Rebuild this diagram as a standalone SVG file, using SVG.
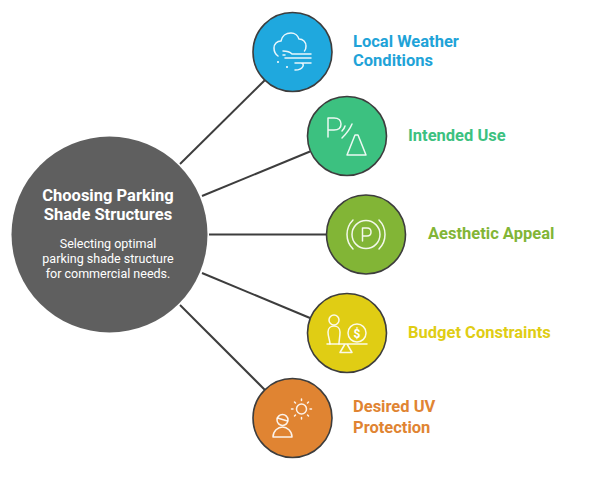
<svg xmlns="http://www.w3.org/2000/svg" width="600" height="483" viewBox="0 0 600 483">
<style>
text{font-family:Roboto,"Liberation Sans",sans-serif}
.lab{font-size:16.500px;font-weight:700}
.n{stroke:#3d3d3d;stroke-width:1.6}
.i{fill:none;stroke:#fff;stroke-width:1.500;stroke-linecap:round;stroke-linejoin:round;opacity:.9}
.c{stroke:#3d3d3d;stroke-width:2;fill:none}
.t{font-size:16.500px;font-weight:700;fill:#fff;text-anchor:middle}
.s{font-size:12.500px;fill:#fff;text-anchor:middle}
</style>
<rect width="600" height="483" fill="#fff"/>
<g id="connectors">
<path class="c" d="M180 164L265 80"/>
<path class="c" d="M202 196L310 151.500"/>
<path class="c" d="M209 234.500H327"/>
<path class="c" d="M202 273L310 318"/>
<path class="c" d="M180 305L265 390"/>
</g>
<g id="center">
<circle cx="109.500" cy="234.500" r="98" fill="#5f5f5f"/>
<text class="t" x="108" y="201">Choosing Parking</text>
<text class="t" x="108" y="220">Shade Structures</text>
<text class="s" x="108" y="248">Selecting optimal</text>
<text class="s" x="108" y="263">parking shade structure</text>
<text class="s" x="108" y="278">for commercial needs.</text>
</g>
<g id="node-weather">
<circle class="n" cx="292.500" cy="52" r="39.500" fill="#1fa8de"/>
<path class="i" d="M278 56C275 54 274 51 274 48C274 44 277 41 281 41C282 36 286 33 291 33C295 33 298 36 299 39C303 39 306 42 306 46C306 48 305.500 50 304.500 51"/>
<path class="i" d="M283 51C286 51 290 52 292 54H311M285 58H311M295 63H311M301 63C305 63 304 70 295 70M283 55H285"/>
<circle cx="278" cy="62" r="1" fill="#fff"/><circle cx="287" cy="67" r="1" fill="#fff"/>
<text class="lab" x="353" y="47" fill="#1fa3d8">Local Weather</text>
<text class="lab" x="353" y="66" fill="#1fa3d8">Conditions</text>
</g>
<g id="node-use">
<circle class="n" cx="347" cy="136" r="39.500" fill="#3cc180"/>
<path class="i" d="M328 137V118H334C339 118 341 121 341 124C341 128 339 130 334 130H328"/>
<path class="i" d="M345 126C344.500 128 343.500 129.500 342 131M352 124C350 129 347 133 342 138"/>
<path class="i" d="M347 155L355 135H358L366 155Z"/>
<text class="lab" x="408" y="141" fill="#3cc180">Intended Use</text>
</g>
<g id="node-aesthetic">
<circle class="n" cx="366" cy="234.500" r="39.500" fill="#82b536"/>
<circle class="i" cx="366" cy="234.500" r="14"/>
<path class="i" d="M353 220C345 228 345 241 353 249M379 220C387 228 387 241 379 249"/>
<path class="i" d="M362.500 241V228H367C370 228 371 230 371 232C371 234 370 236 367 236H362.500"/>
<text class="lab" x="428" y="239" fill="#82b536">Aesthetic Appeal</text>
</g>
<g id="node-budget">
<circle class="n" cx="347" cy="333" r="39.500" fill="#e0cd14"/>
<circle class="i" cx="334" cy="320" r="5"/>
<path class="i" d="M330 344C330 340 328 337 328 332C328 328 331 326 334 326C337 326 340 328 340 332C340 337 339 340 339 344"/>
<path class="i" d="M327 344H367M345 344L340 352.500H352L347 344"/>
<circle class="i" cx="357" cy="333" r="9"/>
<text x="357" y="337.500" font-size="12" font-weight="700" fill="#fff" text-anchor="middle">$</text>
<text class="lab" x="408" y="338" fill="#e0cd14">Budget Constraints</text>
</g>
<g id="node-uv">
<circle class="n" cx="292.500" cy="418" r="39.500" fill="#e08432"/>
<circle class="i" cx="301.500" cy="409" r="5"/>
<path class="i" d="M301.500 400.500V399M301.500 419V417.500M293 409H291.500M311.500 409H310M295.500 403L294.500 402M308.500 416L307.500 415M307.500 403L308.500 402M294.500 416L295.500 415"/>
<circle class="i" cx="282.500" cy="420" r="5.500"/>
<path class="i" d="M277.500 418L287.500 421"/>
<path class="i" d="M273 437C273 431 278 427 282.500 427C287 427 292 431 292 437Z"/>
<text class="lab" x="353" y="412" fill="#e08432">Desired UV</text>
<text class="lab" x="353" y="433" fill="#e08432">Protection</text>
</g>
</svg>
